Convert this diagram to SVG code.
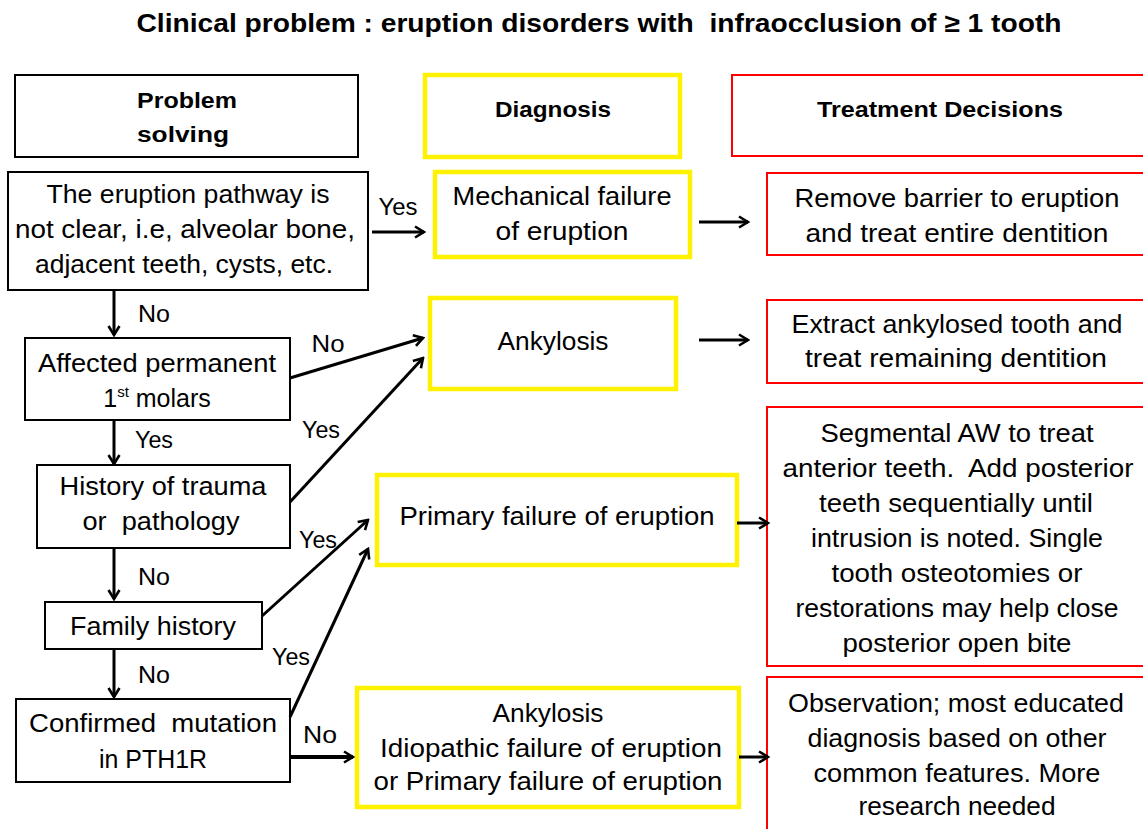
<svg xmlns="http://www.w3.org/2000/svg" width="1143" height="829" viewBox="0 0 1143 829">
<defs>
<style>
text{font-family:"Liberation Sans",Arial,sans-serif;fill:#000;text-anchor:middle;white-space:pre}
.t{font-size:25px}
.h{font-size:22px;font-weight:bold}
.lbl{font-size:24px}
.bk{fill:#fff;stroke:#000;stroke-width:2}
.yl{fill:#fff;stroke:#FFF200;stroke-width:4.5}
.rd{fill:#fff;stroke:#FF0000;stroke-width:2}
.ar{stroke:#000;stroke-width:3;fill:none;marker-end:url(#ah)}
</style>
<marker id="ah" viewBox="0 0 14 14" refX="12" refY="7" markerWidth="14" markerHeight="14" markerUnits="userSpaceOnUse" orient="auto">
<path d="M3,1.5 L12,7 L3,12.5" fill="none" stroke="#000" stroke-width="2.6"/>
</marker>
</defs>
<rect width="1143" height="829" fill="#fff"/>

<text x="599" y="32" style="font-size:26px;font-weight:bold" textLength="925" lengthAdjust="spacingAndGlyphs">Clinical problem : eruption disorders with  infraocclusion of ≥ 1 tooth</text>

<g id="hdr-problem">
<rect class="bk" x="15" y="75" width="343" height="82"/>
<text class="h" x="187" y="108" textLength="100" lengthAdjust="spacingAndGlyphs">Problem</text>
<text class="h" x="183" y="142" textLength="92" lengthAdjust="spacingAndGlyphs">solving</text>
</g>
<g id="hdr-diagnosis">
<rect class="yl" x="425" y="75" width="255" height="82"/>
<text class="h" x="553" y="117" textLength="116" lengthAdjust="spacingAndGlyphs">Diagnosis</text>
</g>
<g id="hdr-treatment">
<rect class="rd" x="732" y="75" width="420" height="81"/>
<text class="h" x="940" y="117" textLength="246" lengthAdjust="spacingAndGlyphs">Treatment Decisions</text>
</g>

<g id="q-pathway">
<rect class="bk" x="8" y="172" width="360" height="118"/>
<text class="t" x="188" y="203" textLength="283" lengthAdjust="spacingAndGlyphs">The eruption pathway is</text>
<text class="t" x="185" y="238" textLength="340" lengthAdjust="spacingAndGlyphs">not clear, i.e, alveolar bone,</text>
<text class="t" x="184" y="273" textLength="298" lengthAdjust="spacingAndGlyphs">adjacent teeth, cysts, etc.</text>
</g>
<g id="d-mechanical">
<rect class="yl" x="435" y="172" width="255" height="85"/>
<text class="t" x="562" y="205" textLength="219" lengthAdjust="spacingAndGlyphs">Mechanical failure</text>
<text class="t" x="562" y="240" textLength="133" lengthAdjust="spacingAndGlyphs">of eruption</text>
</g>
<g id="t-remove">
<rect class="rd" x="767" y="173" width="385" height="82"/>
<text class="t" x="957" y="207" textLength="325" lengthAdjust="spacingAndGlyphs">Remove barrier to eruption</text>
<text class="t" x="957" y="242" textLength="303" lengthAdjust="spacingAndGlyphs">and treat entire dentition</text>
</g>

<g id="q-molars">
<rect class="bk" x="25" y="338" width="265" height="82"/>
<text class="t" x="157" y="372" textLength="238" lengthAdjust="spacingAndGlyphs">Affected permanent</text>
<text class="t" x="157" y="407">1<tspan font-size="15" dy="-10">st</tspan><tspan dy="10"> molars</tspan></text>
</g>
<g id="d-ankylosis">
<rect class="yl" x="430" y="298" width="246" height="91"/>
<text class="t" x="553" y="350" textLength="111" lengthAdjust="spacingAndGlyphs">Ankylosis</text>
</g>
<g id="t-extract">
<rect class="rd" x="767" y="300" width="385" height="83"/>
<text class="t" x="957" y="333" textLength="331" lengthAdjust="spacingAndGlyphs">Extract ankylosed tooth and</text>
<text class="t" x="956" y="367" textLength="302" lengthAdjust="spacingAndGlyphs">treat remaining dentition</text>
</g>

<g id="q-trauma">
<rect class="bk" x="37" y="465" width="253" height="83"/>
<text class="t" x="163" y="495" textLength="207" lengthAdjust="spacingAndGlyphs">History of trauma</text>
<text class="t" x="161" y="530" textLength="157" lengthAdjust="spacingAndGlyphs">or  pathology</text>
</g>
<g id="d-primary">
<rect class="yl" x="377" y="475" width="360" height="90"/>
<text class="t" x="557" y="525" textLength="315" lengthAdjust="spacingAndGlyphs">Primary failure of eruption</text>
</g>
<g id="t-segmental">
<rect class="rd" x="767" y="407" width="385" height="259"/>
<text class="t" x="957" y="442" textLength="273" lengthAdjust="spacingAndGlyphs">Segmental AW to treat</text>
<text class="t" x="958" y="477" textLength="351" lengthAdjust="spacingAndGlyphs">anterior teeth.  Add posterior</text>
<text class="t" x="956" y="512" textLength="274" lengthAdjust="spacingAndGlyphs">teeth sequentially until</text>
<text class="t" x="957" y="547" textLength="292" lengthAdjust="spacingAndGlyphs">intrusion is noted. Single</text>
<text class="t" x="957" y="582" textLength="251" lengthAdjust="spacingAndGlyphs">tooth osteotomies or</text>
<text class="t" x="957" y="617" textLength="323" lengthAdjust="spacingAndGlyphs">restorations may help close</text>
<text class="t" x="957" y="652" textLength="229" lengthAdjust="spacingAndGlyphs">posterior open bite</text>
</g>

<g id="q-family">
<rect class="bk" x="45" y="602" width="217" height="47"/>
<text class="t" x="153" y="635" textLength="166" lengthAdjust="spacingAndGlyphs">Family history</text>
</g>

<g id="q-mutation">
<rect class="bk" x="16" y="699" width="274" height="83"/>
<text class="t" x="153" y="732" textLength="248" lengthAdjust="spacingAndGlyphs">Confirmed  mutation</text>
<text class="t" x="153" y="768" textLength="108" lengthAdjust="spacingAndGlyphs">in PTH1R</text>
</g>
<g id="d-idiopathic">
<rect class="yl" x="357" y="688" width="382" height="119"/>
<text class="t" x="548" y="722" textLength="111" lengthAdjust="spacingAndGlyphs">Ankylosis</text>
<text class="t" x="551" y="757" textLength="342" lengthAdjust="spacingAndGlyphs">Idiopathic failure of eruption</text>
<text class="t" x="548" y="790" textLength="349" lengthAdjust="spacingAndGlyphs">or Primary failure of eruption</text>
</g>
<g id="t-observation">
<rect class="rd" x="767" y="677" width="385" height="170"/>
<text class="t" x="956" y="712" textLength="336" lengthAdjust="spacingAndGlyphs">Observation; most educated</text>
<text class="t" x="957" y="747" textLength="299" lengthAdjust="spacingAndGlyphs">diagnosis based on other</text>
<text class="t" x="957" y="782" textLength="287" lengthAdjust="spacingAndGlyphs">common features. More</text>
<text class="t" x="957" y="815" textLength="197" lengthAdjust="spacingAndGlyphs">research needed</text>
</g>

<g id="connectors">
<line class="ar" x1="372" y1="232" x2="424" y2="232"/>
<line class="ar" x1="699" y1="222" x2="748" y2="222"/>
<line class="ar" x1="114" y1="290" x2="114" y2="335"/>
<line class="ar" x1="290" y1="378" x2="423" y2="338"/>
<line class="ar" x1="699" y1="340" x2="748" y2="340"/>
<line class="ar" x1="114" y1="420" x2="114" y2="464"/>
<line class="ar" x1="290" y1="502" x2="423" y2="358"/>
<line class="ar" x1="737" y1="523" x2="768" y2="523"/>
<line class="ar" x1="114" y1="548" x2="114" y2="599"/>
<line class="ar" x1="262" y1="616" x2="368" y2="520"/>
<line class="ar" x1="114" y1="649" x2="114" y2="697"/>
<line class="ar" x1="290" y1="717" x2="368" y2="549"/>
<line class="ar" x1="290" y1="757" x2="353" y2="757" style="stroke-width:4"/>
<line class="ar" x1="739" y1="757" x2="768" y2="757"/>
<text class="lbl" x="398" y="215" textLength="39" lengthAdjust="spacingAndGlyphs">Yes</text>
<text class="lbl" x="154" y="322" textLength="32" lengthAdjust="spacingAndGlyphs">No</text>
<text class="lbl" x="328" y="352" textLength="33" lengthAdjust="spacingAndGlyphs">No</text>
<text class="lbl" x="154" y="448" textLength="38" lengthAdjust="spacingAndGlyphs">Yes</text>
<text class="lbl" x="321" y="438" textLength="38" lengthAdjust="spacingAndGlyphs">Yes</text>
<text class="lbl" x="318" y="548" textLength="38" lengthAdjust="spacingAndGlyphs">Yes</text>
<text class="lbl" x="154" y="585" textLength="32" lengthAdjust="spacingAndGlyphs">No</text>
<text class="lbl" x="154" y="683" textLength="32" lengthAdjust="spacingAndGlyphs">No</text>
<text class="lbl" x="291" y="665" textLength="38" lengthAdjust="spacingAndGlyphs">Yes</text>
<text class="lbl" x="320" y="743" textLength="34" lengthAdjust="spacingAndGlyphs">No</text>
</g>
</svg>
